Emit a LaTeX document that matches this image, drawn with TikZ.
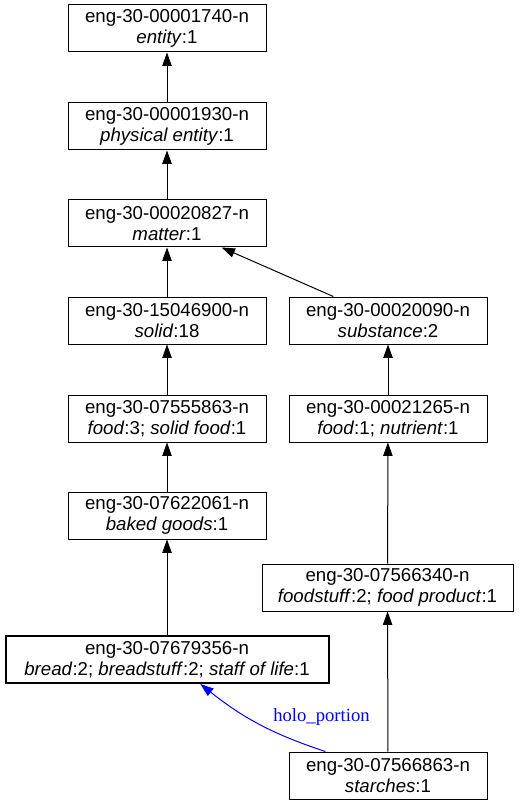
\documentclass[tikz,border=0pt]{standalone}
\usepackage{fontspec}
\setmainfont{Liberation Sans}
\newfontfamily\relfont{Liberation Serif}
\usetikzlibrary{arrows.meta}
\begin{document}
\begin{tikzpicture}[x=0.75pt, y=0.75pt,
        synset/.style={draw, line width=0.75pt, rectangle, fill=white,
                       minimum width=148.5pt, minimum height=35.25pt,
                       inner sep=0pt, align=center,
                       font=\fontsize{14}{15.75}\selectfont},
        focus/.style={synset, line width=1.5pt},
        hyper/.style={line width=0.75pt, -{Triangle[length=10pt,width=7pt]}},
        holo/.style={hyper, blue}]
    \useasboundingbox (0,0) rectangle (521,-805);
    % left column
    \node[synset] (entity)   at (167,-28.5)  {eng-30-00001740-n\\\textit{entity}:1};
    \node[synset] (physical) at (167,-126.5) {eng-30-00001930-n\\\textit{physical entity}:1};
    \node[synset] (matter)   at (167,-223.5) {eng-30-00020827-n\\\textit{matter}:1};
    \node[synset] (solid)    at (167,-320.5) {eng-30-15046900-n\\\textit{solid}:18};
    \node[synset] (solidfood) at (167,-418.5) {eng-30-07555863-n\\\textit{food}:3; \textit{solid food}:1};
    \node[synset] (baked)    at (167,-515.5) {eng-30-07622061-n\\\textit{baked goods}:1};
    \node[focus, minimum width=242.25pt] (bread) at (167,-659.5)
        {eng-30-07679356-n\\\textit{bread}:2; \textit{breadstuff}:2; \textit{staff of life}:1};
    % right column
    \node[synset] (substance) at (388,-320.5) {eng-30-00020090-n\\\textit{substance}:2};
    \node[synset] (nutrient)  at (388,-418.5) {eng-30-00021265-n\\\textit{food}:1; \textit{nutrient}:1};
    \node[synset, minimum width=188.25pt] (foodstuff) at (387.5,-587.5)
        {eng-30-07566340-n\\\textit{foodstuff}:2; \textit{food product}:1};
    \node[synset] (starches)  at (388,-775.5) {eng-30-07566863-n\\\textit{starches}:1};
    % hypernym links
    \draw[hyper] (physical) -- (entity);
    \draw[hyper] (matter) -- (physical);
    \draw[hyper] (solid) -- (matter);
    \draw[hyper] (substance) -- (matter);
    \draw[hyper] (solidfood) -- (solid);
    \draw[hyper] (baked) -- (solidfood);
    \draw[hyper] (bread) -- (baked);
    \draw[hyper] (nutrient) -- (substance);
    \draw[hyper] (foodstuff) -- (nutrient);
    \draw[hyper] (starches) -- (foodstuff);
    % part relation
    \coordinate (holostart) at ([xshift=-47pt]starches.north);
    \coordinate (holoend) at ([xshift=25pt]bread.south);
    \draw[holo] (holostart) to[bend left=10] (holoend);
    \node[font=\relfont\fontsize{14}{16}\selectfont, text=blue, inner sep=0pt]
        (holo) at (321.5,-717) {holo\_portion};
\end{tikzpicture}
\end{document}
